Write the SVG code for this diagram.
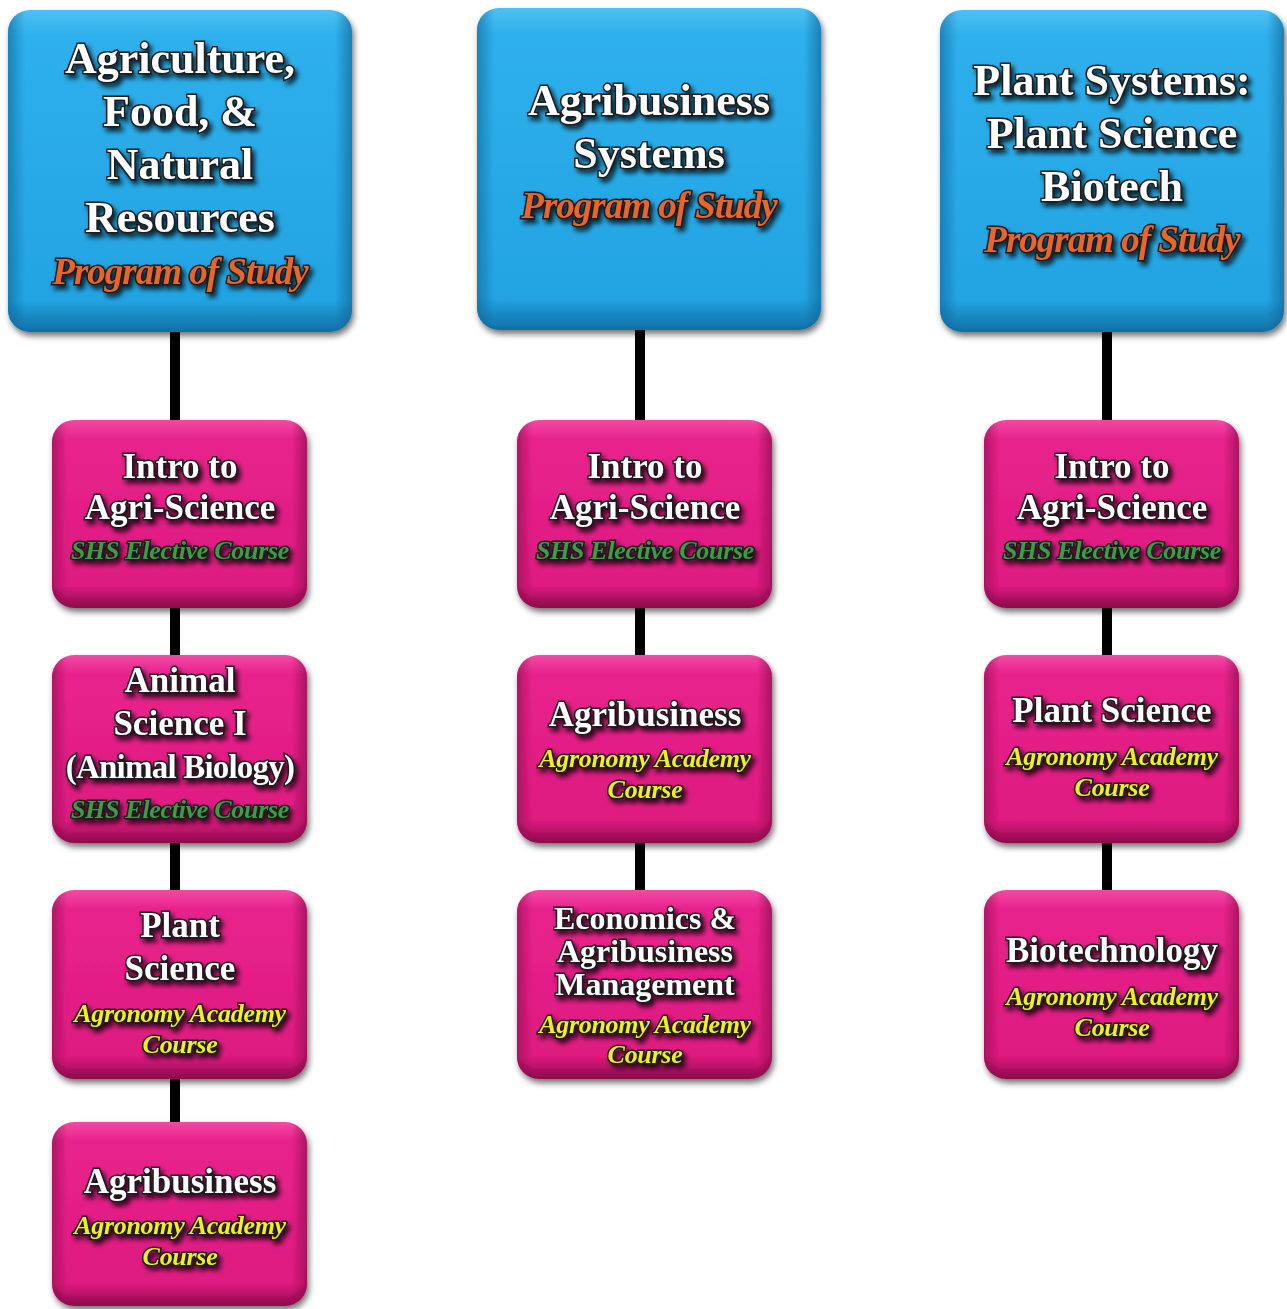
<svg xmlns="http://www.w3.org/2000/svg" width="1287" height="1309" viewBox="0 0 1287 1309">
<defs>
<linearGradient id="blueV" x1="0" y1="0" x2="0" y2="1">
<stop offset="0" stop-color="#4cc0f2"/><stop offset="0.08" stop-color="#2eb0ec"/><stop offset="0.9" stop-color="#23a4e2"/><stop offset="1" stop-color="#0f6fa6"/>
</linearGradient>
<linearGradient id="blueH" x1="0" y1="0" x2="1" y2="0">
<stop offset="0" stop-color="#0d5f90" stop-opacity="0.55"/><stop offset="0.05" stop-color="#0d5f90" stop-opacity="0"/><stop offset="0.95" stop-color="#0d5f90" stop-opacity="0"/><stop offset="1" stop-color="#0d5f90" stop-opacity="0.6"/>
</linearGradient>
<linearGradient id="pinkV" x1="0" y1="0" x2="0" y2="1">
<stop offset="0" stop-color="#f24aa5"/><stop offset="0.1" stop-color="#e8238c"/><stop offset="0.88" stop-color="#de1a80"/><stop offset="1" stop-color="#8a0a4a"/>
</linearGradient>
<linearGradient id="pinkH" x1="0" y1="0" x2="1" y2="0">
<stop offset="0" stop-color="#7a0840" stop-opacity="0.5"/><stop offset="0.06" stop-color="#7a0840" stop-opacity="0"/><stop offset="0.94" stop-color="#7a0840" stop-opacity="0"/><stop offset="1" stop-color="#7a0840" stop-opacity="0.55"/>
</linearGradient>
<filter id="shadow" x="-10%" y="-10%" width="125%" height="125%">
<feGaussianBlur in="SourceAlpha" stdDeviation="3"/>
<feOffset dx="2" dy="4" result="b"/>
<feComponentTransfer><feFuncA type="linear" slope="0.55"/></feComponentTransfer>
<feMerge><feMergeNode/><feMergeNode in="SourceGraphic"/></feMerge>
</filter>
<filter id="tshadow" x="-10%" y="-30%" width="130%" height="170%">
<feGaussianBlur in="SourceAlpha" stdDeviation="2.5"/>
<feOffset dx="3" dy="4"/>
<feComponentTransfer><feFuncA type="linear" slope="0.8"/></feComponentTransfer>
<feMerge><feMergeNode/><feMergeNode in="SourceGraphic"/></feMerge>
</filter>
</defs>
<style>
.conn line{stroke:#000;stroke-width:10}
.t{font-family:"Liberation Serif","Times New Roman",serif;font-weight:bold;text-anchor:middle;fill:#fff;stroke:#1a1a1a;stroke-width:3;paint-order:stroke;filter:url(#tshadow)}
.big{font-size:44px}
.mid{font-size:35px}
.sub{font-style:italic;font-size:26px;letter-spacing:-0.3px}
.prog{font-style:italic;font-size:37px;fill:#e8662a;letter-spacing:-1px}
.green{fill:#3c9c44}
.yellow{fill:#f4ee1c}
</style>
<g class="conn">
<line x1="175" y1="330" x2="175" y2="1125"/>
<line x1="640" y1="328" x2="640" y2="893"/>
<line x1="1107" y1="330" x2="1107" y2="893"/>
</g>
<g id="n1" filter="url(#shadow)">
<rect x="8" y="10" width="344" height="322" rx="22" fill="url(#blueV)"/>
<rect x="8" y="10" width="344" height="322" rx="22" fill="url(#blueH)"/>
</g>
<g id="n1t">
<text class="t big" x="180" y="73">Agriculture,</text>
<text class="t big" x="180" y="126">Food, &amp;</text>
<text class="t big" x="180" y="179">Natural</text>
<text class="t big" x="180" y="232">Resources</text>
<text class="t prog" x="180" y="284">Program of Study</text>
</g>
<g id="n2" filter="url(#shadow)">
<rect x="477" y="8" width="344" height="322" rx="22" fill="url(#blueV)"/>
<rect x="477" y="8" width="344" height="322" rx="22" fill="url(#blueH)"/>
</g>
<g id="n2t">
<text class="t big" x="649" y="115">Agribusiness</text>
<text class="t big" x="649" y="168">Systems</text>
<text class="t prog" x="649" y="218">Program of Study</text>
</g>
<g id="n3" filter="url(#shadow)">
<rect x="940" y="10" width="344" height="322" rx="22" fill="url(#blueV)"/>
<rect x="940" y="10" width="344" height="322" rx="22" fill="url(#blueH)"/>
</g>
<g id="n3t">
<text class="t big" x="1112" y="95">Plant Systems:</text>
<text class="t big" x="1112" y="148">Plant Science</text>
<text class="t big" x="1112" y="201">Biotech</text>
<text class="t prog" x="1112" y="252">Program of Study</text>
</g>

<g id="c1a">
<g filter="url(#shadow)"><rect x="52" y="420" width="255" height="188" rx="22" fill="url(#pinkV)"/><rect x="52" y="420" width="255" height="188" rx="22" fill="url(#pinkH)"/></g>
<text class="t mid" x="180" y="478">Intro to</text>
<text class="t mid" x="180" y="519">Agri-Science</text>
<text class="t sub green" x="180" y="559">SHS Elective Course</text>
</g>
<g id="c1b">
<g filter="url(#shadow)"><rect x="52" y="655" width="255" height="188" rx="22" fill="url(#pinkV)"/><rect x="52" y="655" width="255" height="188" rx="22" fill="url(#pinkH)"/></g>
<text class="t mid" x="180" y="692">Animal</text>
<text class="t mid" x="180" y="735">Science I</text>
<text class="t mid" x="180" y="778" style="font-size:33px;letter-spacing:-0.8px">(Animal Biology)</text>
<text class="t sub green" x="180" y="818">SHS Elective Course</text>
</g>
<g id="c1c">
<g filter="url(#shadow)"><rect x="52" y="890" width="255" height="189" rx="22" fill="url(#pinkV)"/><rect x="52" y="890" width="255" height="189" rx="22" fill="url(#pinkH)"/></g>
<text class="t mid" x="180" y="937">Plant</text>
<text class="t mid" x="180" y="980">Science</text>
<text class="t sub yellow" x="180" y="1022">Agronomy Academy</text>
<text class="t sub yellow" x="180" y="1053">Course</text>
</g>
<g id="c1d">
<g filter="url(#shadow)"><rect x="52" y="1122" width="255" height="184" rx="22" fill="url(#pinkV)"/><rect x="52" y="1122" width="255" height="184" rx="22" fill="url(#pinkH)"/></g>
<text class="t mid" x="180" y="1193">Agribusiness</text>
<text class="t sub yellow" x="180" y="1234">Agronomy Academy</text>
<text class="t sub yellow" x="180" y="1265">Course</text>
</g>

<g id="c2a">
<g filter="url(#shadow)"><rect x="517" y="420" width="255" height="188" rx="22" fill="url(#pinkV)"/><rect x="517" y="420" width="255" height="188" rx="22" fill="url(#pinkH)"/></g>
<text class="t mid" x="645" y="478">Intro to</text>
<text class="t mid" x="645" y="519">Agri-Science</text>
<text class="t sub green" x="645" y="559">SHS Elective Course</text>
</g>
<g id="c2b">
<g filter="url(#shadow)"><rect x="517" y="655" width="255" height="188" rx="22" fill="url(#pinkV)"/><rect x="517" y="655" width="255" height="188" rx="22" fill="url(#pinkH)"/></g>
<text class="t mid" x="645" y="726">Agribusiness</text>
<text class="t sub yellow" x="645" y="767">Agronomy Academy</text>
<text class="t sub yellow" x="645" y="798">Course</text>
</g>
<g id="c2c">
<g filter="url(#shadow)"><rect x="517" y="890" width="255" height="189" rx="22" fill="url(#pinkV)"/><rect x="517" y="890" width="255" height="189" rx="22" fill="url(#pinkH)"/></g>
<text class="t" style="font-size:32px" x="645" y="929">Economics &amp;</text>
<text class="t" style="font-size:32px" x="645" y="962">Agribusiness</text>
<text class="t" style="font-size:32px" x="645" y="995">Management</text>
<text class="t sub yellow" x="645" y="1033">Agronomy Academy</text>
<text class="t sub yellow" x="645" y="1063">Course</text>
</g>

<g id="c3a">
<g filter="url(#shadow)"><rect x="984" y="420" width="255" height="188" rx="22" fill="url(#pinkV)"/><rect x="984" y="420" width="255" height="188" rx="22" fill="url(#pinkH)"/></g>
<text class="t mid" x="1112" y="478">Intro to</text>
<text class="t mid" x="1112" y="519">Agri-Science</text>
<text class="t sub green" x="1112" y="559">SHS Elective Course</text>
</g>
<g id="c3b">
<g filter="url(#shadow)"><rect x="984" y="655" width="255" height="188" rx="22" fill="url(#pinkV)"/><rect x="984" y="655" width="255" height="188" rx="22" fill="url(#pinkH)"/></g>
<text class="t mid" x="1112" y="722">Plant Science</text>
<text class="t sub yellow" x="1112" y="765">Agronomy Academy</text>
<text class="t sub yellow" x="1112" y="796">Course</text>
</g>
<g id="c3c">
<g filter="url(#shadow)"><rect x="984" y="890" width="255" height="189" rx="22" fill="url(#pinkV)"/><rect x="984" y="890" width="255" height="189" rx="22" fill="url(#pinkH)"/></g>
<text class="t mid" x="1112" y="962">Biotechnology</text>
<text class="t sub yellow" x="1112" y="1005">Agronomy Academy</text>
<text class="t sub yellow" x="1112" y="1036">Course</text>
</g>
</svg>
